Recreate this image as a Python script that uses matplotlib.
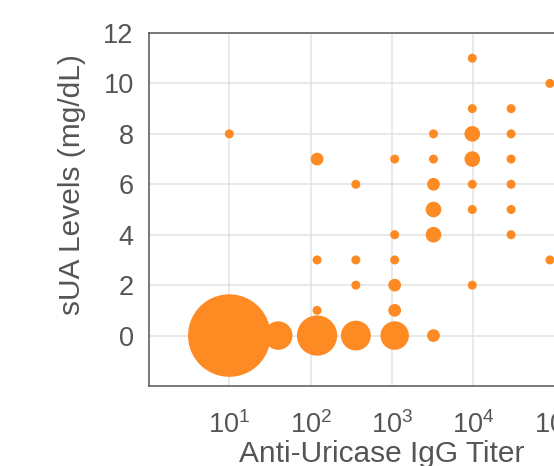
import matplotlib
matplotlib.use("Agg")
import matplotlib.pyplot as plt

# titer / sUA / number of patients at each point
titer = [10, 40, 120, 360, 1080, 3240,
         10, 120, 120, 120, 360, 360, 360,
         1080, 1080, 1080, 1080, 1080,
         3240, 3240, 3240, 3240, 3240,
         9720, 9720, 9720, 9720, 9720, 9720, 9720,
         29160, 29160, 29160, 29160, 29160, 29160,
         87480, 87480]
sua = [0, 0, 0, 0, 0, 0,
       8, 1, 3, 7, 2, 3, 6,
       1, 2, 3, 4, 7,
       4, 5, 6, 7, 8,
       2, 5, 6, 7, 8, 9, 11,
       4, 5, 6, 7, 8, 9,
       3, 10]
count = [84, 10, 20, 11, 10, 2,
         1, 1, 1, 2, 1, 1, 1,
         2, 2, 1, 1, 1,
         3, 3, 2, 1, 1,
         1, 1, 1, 3, 3, 1, 1,
         1, 1, 1, 1, 1, 1,
         1, 1]
yticks = [0, 2, 4, 6, 8, 10, 12]

plt.rcParams['font.family'] = ['Liberation Sans', 'DejaVu Sans']
plt.rcParams['mathtext.fontset'] = 'custom'
plt.rcParams['mathtext.rm'] = 'Liberation Sans'
plt.rcParams['mathtext.it'] = 'Liberation Sans'

txt = '#555555'
fig = plt.figure(figsize=(5.54, 4.66), dpi=100)
# plot area runs past the right edge of the picture (cropped like the original)
ax = fig.add_axes([149/554, 80/466, 465/554, 353/466])

ax.scatter(titer, sua, s=[42*c for c in count], color='#fd8a22',
           edgecolors='none', zorder=3)

ax.set_xscale('log')
ax.set_xlim(1.03, 10**5.73)
ax.set_ylim(-2, 12)
ax.set_yticks(yticks)
ax.set_xticks([10, 100, 1000, 10000, 100000])
ax.xaxis.set_minor_locator(matplotlib.ticker.NullLocator())
ax.grid(True, color='#e3e3e3', linewidth=1.1, zorder=0)
ax.set_axisbelow(True)

for sp in ax.spines.values():
    sp.set_color('#555555')
    sp.set_linewidth(1.1)
ax.tick_params(axis='y', length=0, labelsize=19.5, labelcolor=txt, pad=11)
ax.tick_params(axis='x', length=0, labelsize=19.5, labelcolor=txt, pad=18)
ax.set_xlabel('Anti-Uricase IgG Titer', fontsize=21.5, color=txt)
ax.set_ylabel('sUA Levels (mg/dL)', fontsize=21.5, color=txt)
ax.xaxis.set_label_coords(0.5, -76/353, transform=ax.transAxes)
ax.yaxis.set_label_coords(-77/465, 201/353, transform=ax.transAxes)
ax.xaxis.label.set_va('baseline')
ax.yaxis.label.set_va('center')

fig.savefig('out.png', dpi=100)
